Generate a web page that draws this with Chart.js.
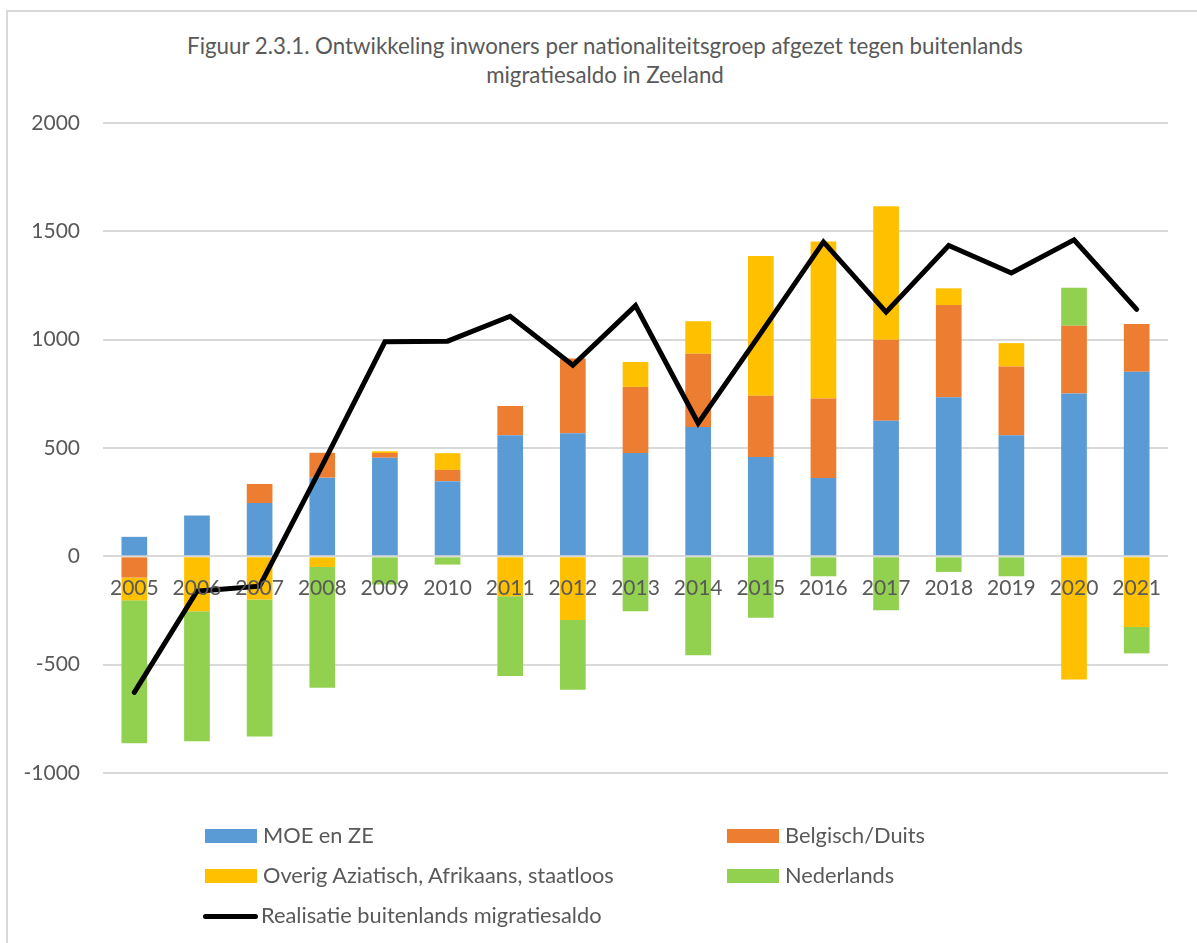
<!DOCTYPE html>
<html>
<head>
<meta charset="utf-8">
<script src="https://cdn.jsdelivr.net/npm/chart.js@4.4.0/dist/chart.umd.min.js"></script>
<style>
  html, body { margin: 0; padding: 0; background: #fff; }
  body { width: 1197px; height: 943px; position: relative; overflow: hidden; font-family: Lato, "Open Sans", sans-serif; color: #595959; }
  #frame { position: absolute; left: 6px; top: 10px; width: 1200px; height: 960px; border: 2px solid #d9d9d9; }
  #wrap { position: absolute; left: 0; top: 0; width: 1197px; height: 943px; }
  #title { position: absolute; left: 0; width: 1210px; top: 31px; text-align: center; font-size: 22.3px; line-height: 29px; }
  .lg { position: absolute; font-size: 21.8px; line-height: 26px; white-space: nowrap; }
  .box { position: absolute; width: 52px; height: 14px; }
  .ln { position: absolute; width: 55px; height: 5px; border-radius: 3px; background: #000; }
</style>
</head>
<body>
<div id="frame"></div>
<div id="title">Figuur 2.3.1. Ontwikkeling inwoners per nationaliteitsgroep afgezet tegen buitenlands<br>migratiesaldo in Zeeland</div>
<div id="wrap"><canvas id="c" width="1197" height="943"></canvas></div>
<div id="legend"></div>
<script>
var years = ["2005", "2006", "2007", "2008", "2009", "2010", "2011", "2012", "2013",
             "2014", "2015", "2016", "2017", "2018", "2019", "2020", "2021"];

var moeZe = [90, 189, 246, 363, 455, 347, 559, 568, 477, 597, 458, 361, 626, 734, 559, 752, 852];
var belgischDuits = [-98, 0, 88, 115, 22, 52, 135, 345, 305, 338, 283, 368, 374, 426, 317, 312, 220];
var overig = [-105, -253, -199, -49, 8, 77, -184, -294, 115, 150, 645, 724, 616, 77, 108, -568, -326];
var nederlands = [-660, -601, -633, -558, -130, -38, -368, -322, -254, -457, -284, -92, -249, -72, -92, 176, -122];
var migratiesaldo = [-628, -161, -138, 420, 990, 993, 1108, 882, 1157, 614, 1030, 1451, 1127, 1435, 1308, 1461, 1140];

var yTicks = [-1000, -500, 0, 500, 1000, 1500, 2000];

var labels = {
    moe: "MOE en ZE",
    belg: "Belgisch/Duits",
    overig: "Overig Aziatisch, Afrikaans, staatloos",
    ned: "Nederlands",
    saldo: "Realisatie buitenlands migratiesaldo"
};

var colors = {
    moe: "#5B9BD5",
    belg: "#ED7D31",
    overig: "#FFC000",
    ned: "#92D050",
    saldo: "#000000"
};

function barSet(label, data, color) {
    return {
        type: "bar",
        label: label,
        data: data,
        backgroundColor: color,
        borderWidth: 0,
        stack: "groepen",
        order: 1,
        barPercentage: 0.41,
        categoryPercentage: 1
    };
}

var chart = new Chart(document.getElementById("c"), {
    data: {
        labels: years,
        datasets: [
            barSet(labels.moe, moeZe, colors.moe),
            barSet(labels.belg, belgischDuits, colors.belg),
            barSet(labels.overig, overig, colors.overig),
            barSet(labels.ned, nederlands, colors.ned),
            {
                type: "line",
                label: labels.saldo,
                data: migratiesaldo,
                borderColor: colors.saldo,
                borderWidth: 5,
                pointRadius: 0,
                tension: 0,
                borderCapStyle: "round",
                stack: "saldo",
                order: 0
            }
        ]
    },
    options: {
        responsive: false,
        animation: false,
        layout: { padding: { left: 0, right: 29, top: 123, bottom: 170 } },
        plugins: {
            legend: { display: false },
            tooltip: { enabled: false },
            title: { display: false }
        },
        scales: {
            x: {
                position: { y: 0 },
                stacked: true,
                grid: { display: false },
                border: { display: false },
                ticks: {
                    z: 1, // year labels sit on top of the bars
                    color: "#595959",
                    font: { family: "Lato", size: 21 },
                    padding: 11,
                    maxRotation: 0
                }
            },
            y: {
                stacked: true,
                min: -1000,
                max: 2000,
                afterBuildTicks: function(scale) {
                    scale.ticks = yTicks.map(function(v) { return { value: v }; });
                },
                afterFit: function(scale) { scale.width = 103; },
                grid: { color: "#d9d9d9", lineWidth: 2, drawTicks: false },
                border: { display: false },
                ticks: {
                    color: "#595959",
                    font: { family: "Lato", size: 21 },
                    padding: 23,
                    callback: function(v) { return String(v); }
                }
            }
        }
    }
});

// legend in two columns, like the original
var legendItems = [
    { key: "moe", x: 205, y: 836 },
    { key: "belg", x: 727, y: 836 },
    { key: "overig", x: 205, y: 876 },
    { key: "ned", x: 727, y: 876 },
    { key: "saldo", x: 203, y: 916 }
];
var lg = document.getElementById("legend");
legendItems.forEach(function(it) {
    var mark = document.createElement("div");
    if (it.key === "saldo") {
        mark.className = "ln";
        mark.style.left = it.x + "px";
        mark.style.top = (it.y - 2) + "px";
    } else {
        mark.className = "box";
        mark.style.left = it.x + "px";
        mark.style.top = (it.y - 7) + "px";
        mark.style.background = colors[it.key];
    }
    lg.appendChild(mark);
    var txt = document.createElement("div");
    txt.className = "lg";
    txt.textContent = labels[it.key];
    txt.style.left = (it.x + 58) + "px";
    txt.style.top = (it.y - 14) + "px";
    lg.appendChild(txt);
});
</script>
</body>
</html>
